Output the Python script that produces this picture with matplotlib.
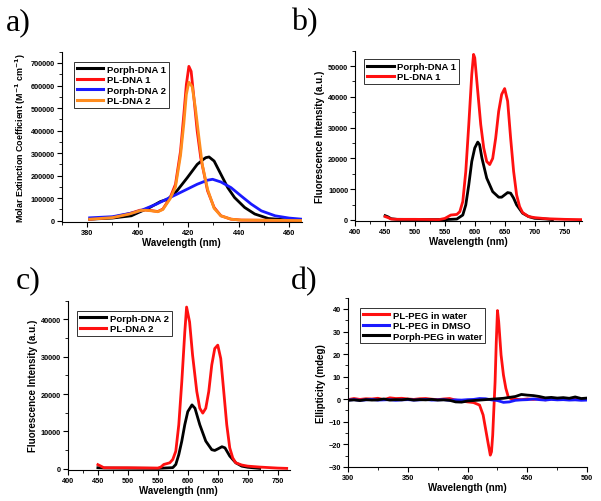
import matplotlib.pyplot as plt
from matplotlib.ticker import MultipleLocator

plt.rcParams['font.family'] = ['Liberation Sans', 'DejaVu Sans']
plt.rcParams['font.weight'] = 'bold'
plt.rcParams['mathtext.default'] = 'bf'

# a) absorption
wl_a_black = [381, 390, 397.5, 401, 405, 409, 412, 415.6, 419.6, 423.6, 426, 427, 428.3, 430.3, 433, 435.7, 438.4, 442.4, 446.4, 451.8, 460, 465]
porph_dna1 = [7000, 12000, 22000, 40000, 60000, 85000, 96000, 133000, 190000, 250000, 272000, 280000, 283000, 265000, 206000, 147000, 103000, 59000, 30000, 10000, 3000, 2000]
wl_a_blue = [381, 390, 398, 401, 407.5, 411.5, 415.6, 419.6, 423.6, 427.7, 429.7, 433, 437, 441, 445, 449, 454.5, 460, 465]
porph_dna2 = [13000, 18000, 35000, 44000, 74000, 96000, 118000, 140000, 162000, 180000, 184000, 172000, 147000, 110000, 74000, 44000, 22000, 12000, 7000]
wl_a_red = [381, 390, 396.8, 401, 403, 405.5, 408, 410, 412.9, 415, 417, 418.3, 419.3, 420.3, 421.2, 422.3, 423.6, 425, 427.7, 430.3, 433, 437, 441, 465]
pl_dna1 = [7000, 15000, 32000, 47000, 48000, 45000, 41000, 52000, 103000, 162000, 309000, 471000, 604000, 685000, 663000, 545000, 398000, 280000, 133000, 59000, 22000, 7000, 3000, 1000]
wl_a_orange = [381, 390, 396.8, 401, 403, 405.5, 408, 410, 412.9, 415, 417, 418.3, 419.3, 420.3, 421.6, 422.9, 424.3, 425.6, 427.7, 430.3, 433, 437, 441, 465]
pl_dna2 = [7000, 14000, 30000, 45000, 47000, 44000, 40000, 50000, 98000, 150000, 290000, 430000, 560000, 615000, 595000, 500000, 368000, 250000, 140000, 55000, 22000, 7000, 3000, 1000]

# b) fluorescence, set 1
wl_b_red = [450, 455, 460, 470, 500, 540, 550, 560, 570, 575, 580, 585, 590, 595, 598, 600, 605, 610, 615, 620, 625, 630, 635, 640, 645, 650, 655, 660, 665, 670, 675, 680, 690, 700, 720, 750, 780]
pl_b = [1100, 760, 300, 200, 200, 100, 500, 1600, 1800, 2700, 6000, 15800, 31000, 47300, 53800, 52700, 41800, 31000, 23400, 19000, 18000, 20000, 26600, 35300, 40800, 42700, 38600, 26600, 15800, 8150, 4350, 2400, 1100, 760, 400, 200, 100]
wl_b_black = [450, 455, 460, 470, 550, 570, 580, 585, 590, 595, 600, 605, 608, 612, 620, 630, 640, 645, 650, 655, 660, 665, 670, 680, 690, 700, 720, 730]
porph_b = [1400, 1000, 400, 200, 100, 300, 1600, 4900, 11400, 19000, 23400, 25300, 24500, 20100, 13600, 9200, 7400, 7400, 8150, 8900, 8700, 7100, 4900, 2200, 1100, 540, 300, 100]

# c) fluorescence, set 2
wl_c_red = [450, 455, 460, 500, 550, 555, 560, 570, 575, 580, 585, 590, 595, 598, 603, 608, 615, 620, 625, 630, 635, 640, 645, 650, 655, 660, 665, 670, 675, 680, 690, 700, 720, 750, 765]
pl_c = [1100, 700, 270, 270, 180, 450, 1150, 1600, 2500, 4700, 11800, 23300, 36600, 43300, 39300, 30400, 20700, 16200, 14900, 16200, 20700, 27800, 32200, 33100, 29500, 20700, 11800, 5600, 2900, 1600, 1000, 700, 450, 180, 100]
wl_c_black = [450, 460, 550, 575, 580, 585, 590, 595, 600, 607, 612, 620, 630, 640, 645, 650, 657, 662, 670, 680, 690, 700, 720]
porph_c = [270, 200, 100, 300, 1150, 3800, 7400, 11800, 15300, 17100, 16200, 11800, 7400, 5100, 4900, 5300, 5900, 5600, 3400, 1600, 700, 400, 100]

# d) circular dichroism
wl_d = [300, 305, 310, 315, 320, 325, 330, 335, 340, 345, 350, 355, 360, 365, 370, 375, 380, 385, 390, 395, 400,
        405, 410, 415, 420, 425, 430, 435, 440, 445, 450, 455, 460, 465, 470, 475, 480, 485, 490, 495, 500]
dmso_d = [-0.4, -0.2, -0.5, -0.3, -0.1, -0.4, -0.3, -0.2, -0.5, -0.3, -0.2, -0.4, -0.3, -0.1, -0.4, -0.3, -0.2, -0.5, -0.3, -0.4, -0.2,
          -0.1, 0.3, 0.2, -0.3, -0.6, -1.4, -1.2, -0.5, -0.3, -0.2, 0.1, -0.2, -0.4, -0.1, -0.3, -0.2, -0.4, -0.3, -0.5, -0.4]
porph_d = [-0.5, -0.3, -0.6, -0.2, -0.4, -0.3, 0.1, -0.4, -0.2, -0.3, 0.0, -0.4, -0.2, -0.3, -0.1, -0.4, -0.3, -0.5, -1.2, -1.3, -0.8,
           -0.6, -0.4, -0.2, 0.0, 0.2, 0.4, 0.8, 1.2, 2.1, 1.8, 1.6, 1.2, 0.6, 0.8, 0.5, 0.7, 0.4, 1.0, 0.3, 0.5]
wl_d_red = [300, 305, 310, 315, 320, 325, 330, 335, 340, 345, 350, 355, 360, 365, 370, 375, 380, 385, 390, 395, 400, 405,
            410, 413, 415, 417, 419, 420, 421, 422, 423, 424, 425, 426, 428, 430, 432, 434, 436, 440, 445, 450,
            455, 460, 465, 470, 475, 480, 485, 490, 495, 500]
water_d = [-0.2, 0.3, -0.1, 0.2, 0.1, 0.4, -0.2, 0.6, 0.3, 0.4, 0.1, -0.1, 0.2, 0.3, 0.0, -0.2, 0.1, 0.3, -0.4, -0.8, -1.2, -1.5,
           -2.6, -7, -13, -19, -24.8, -23.3, -16, -4, 7.7, 25.5, 39.3, 34.5, 19.6, 10.7, 4.8, 1.1, 0.3, 0.0, -0.2, 0.1,
           -0.1, 0.2, -0.3, 0.1, -0.2, 0.3, 0.0, 0.2, -0.1, 0.1]

RED = '#ff1010'
BLUE = '#1a1aff'
ORANGE = '#ff8c1e'
LW = 2.0
TICK_FS = 5.3
LAB_FS = 7


def style(ax, xmaj, xmin, ymaj, ymin):
    for s in ['top', 'right']:
        ax.spines[s].set_visible(False)
    for s in ['left', 'bottom']:
        ax.spines[s].set_linewidth(0.8)
    ax.xaxis.set_major_locator(MultipleLocator(xmaj))
    ax.xaxis.set_minor_locator(MultipleLocator(xmin))
    ax.yaxis.set_major_locator(MultipleLocator(ymaj))
    ax.yaxis.set_minor_locator(MultipleLocator(ymin))
    ax.tick_params(which='major', direction='out', length=3.5, width=0.8, labelsize=TICK_FS, pad=1.5)
    ax.tick_params(which='minor', direction='out', length=2, width=0.6)
    for t in ax.get_xticklabels() + ax.get_yticklabels():
        t.set_fontweight('bold')
    ax.set_xlabel('Wavelength (nm)', fontsize=LAB_FS, fontweight='bold', labelpad=1)


def legend(ax, loc_xy):
    leg = ax.legend(loc='upper left', bbox_to_anchor=loc_xy, fontsize=6.8, frameon=True, fancybox=False,
                    edgecolor='black', handlelength=2.8, handletextpad=0.4, borderpad=0.3,
                    labelspacing=0.15, borderaxespad=0)
    leg.get_frame().set_linewidth(0.7)
    for t in leg.get_texts():
        t.set_fontweight('bold')
    for l in leg.get_lines():
        l.set_linewidth(2.2)


fig = plt.figure(figsize=(6.01, 5.02), dpi=100)

# a)
ax = fig.add_axes([0.103, 0.556, 0.399, 0.339])
ax.plot(wl_a_black, porph_dna1, color='black', lw=LW, label='Porph-DNA 1')
ax.plot(wl_a_red, pl_dna1, color=RED, lw=LW, label='PL-DNA 1')
ax.plot(wl_a_blue, porph_dna2, color=BLUE, lw=LW, label='Porph-DNA 2')
ax.plot(wl_a_orange, pl_dna2, color=ORANGE, lw=LW, label='PL-DNA 2')
ax.set_xlim(370, 465)
ax.set_ylim(-5000, 750000)
style(ax, 20, 10, 100000, 50000)
ax.set_ylabel(r'Molar Extinction Coefficient (M$^{-1}$ cm$^{-1}$)', fontsize=6.4, fontweight='bold', labelpad=2)
legend(ax, (0.05, 0.94))

# b)
ax = fig.add_axes([0.591, 0.558, 0.378, 0.339])
ax.plot(wl_b_black, porph_b, color='black', lw=LW, label='Porph-DNA 1')
ax.plot(wl_b_red, pl_b, color=RED, lw=LW, label='PL-DNA 1')
ax.set_xlim(400, 780)
ax.set_ylim(-300, 55000)
style(ax, 50, 25, 10000, 5000)
ax.set_ylabel('Fluorescence Intensity (a.u.)', fontsize=LAB_FS, fontweight='bold', labelpad=2)
legend(ax, (0.04, 0.95))

# c)
ax = fig.add_axes([0.113, 0.062, 0.369, 0.337])
ax.plot(wl_c_black, porph_c, color='black', lw=LW, label='Porph-DNA 2')
ax.plot(wl_c_red, pl_c, color=RED, lw=LW, label='PL-DNA 2')
ax.set_xlim(400, 770)
ax.set_ylim(-300, 45000)
style(ax, 50, 25, 10000, 5000)
ax.set_ylabel('Fluorescence Intensity (a.u.)', fontsize=LAB_FS, fontweight='bold', labelpad=2)
legend(ax, (0.04, 0.94))

# d)
ax = fig.add_axes([0.579, 0.068, 0.398, 0.337])
ax.plot(wl_d_red, water_d, color=RED, lw=LW, label='PL-PEG in water')
ax.plot(wl_d, dmso_d, color=BLUE, lw=LW, label='PL-PEG in DMSO')
ax.plot(wl_d, porph_d, color='black', lw=LW, label='Porph-PEG in water')
ax.set_xlim(300, 500)
ax.set_ylim(-30, 45)
style(ax, 50, 25, 10, 5)
ax.set_ylabel('Ellipticity (mdeg)', fontsize=LAB_FS, fontweight='bold', labelpad=2)
legend(ax, (0.05, 0.94))

# panel letters
for txt, x, y in [('a)', 0.010, 0.955), ('b)', 0.484, 0.955), ('c)', 0.026, 0.44), ('d)', 0.484, 0.44)]:
    fig.text(x, y, txt, fontsize=23, family=['Liberation Serif', 'DejaVu Serif'], fontweight='normal', va='center')

fig.savefig('out.png', dpi=100)
